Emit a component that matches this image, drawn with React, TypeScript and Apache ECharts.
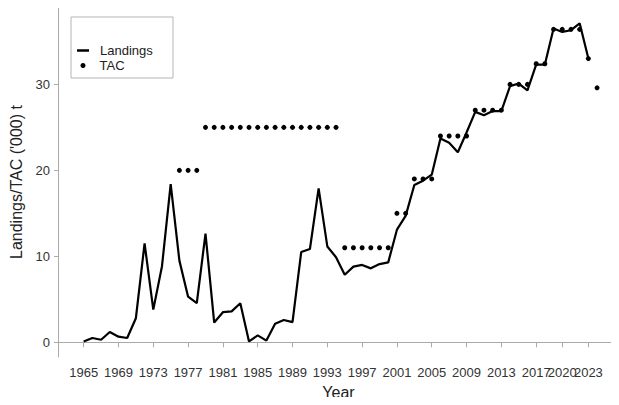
import React, { useEffect, useRef } from "react";
import * as echarts from "echarts";

const years: number[] = [];
for (let y = 1965; y <= 2023; y++) years.push(y);

const landings: number[] = [
  0.1, 0.5, 0.3, 1.2, 0.65, 0.5, 2.8, 11.5, 3.8, 8.85,
  18.4, 9.5, 5.3, 4.55, 12.65, 2.3, 3.5, 3.6, 4.55, 0.1,
  0.8, 0.2, 2.15, 2.6, 2.35, 10.5, 10.85, 17.9, 11.15, 9.9,
  7.85, 8.8, 9.0, 8.6, 9.1, 9.3, 13.1, 14.7, 18.3, 18.8,
  19.5, 23.7, 23.2, 22.1, 24.4, 26.8, 26.4, 26.9, 26.9, 29.8,
  30.1, 29.3, 32.3, 32.3, 36.5, 36.1, 36.3, 37.1, 33.0,
];

const tacYears: number[] = [
  1976, 1977, 1978,
  1979, 1980, 1981, 1982, 1983, 1984, 1985, 1986, 1987, 1988, 1989, 1990, 1991, 1992, 1993, 1994,
  1995, 1996, 1997, 1998, 1999, 2000,
  2001, 2002,
  2003, 2004, 2005,
  2006, 2007, 2008, 2009,
  2010, 2011, 2012, 2013,
  2014, 2015, 2016,
  2017, 2018,
  2019, 2020, 2021, 2022,
  2023, 2024,
];
const tacValues: number[] = [
  20, 20, 20,
  25, 25, 25, 25, 25, 25, 25, 25, 25, 25, 25, 25, 25, 25, 25, 25,
  11, 11, 11, 11, 11, 11,
  15, 15,
  19, 19, 19,
  24, 24, 24, 24,
  27, 27, 27, 27,
  30, 30, 30,
  32.4, 32.4,
  36.4, 36.4, 36.4, 36.4,
  33, 29.6,
];

const xTicks: number[] = [1965, 1969, 1973, 1977, 1981, 1985, 1989, 1993, 1997, 2001, 2005, 2009, 2013, 2017, 2020, 2023];
const xLabelsMain: number[] = [1965, 1969, 1973, 1977, 1981, 1985, 1989, 1993, 1997, 2001, 2005, 2009, 2013, 2017, 2023];
const xLabelsExtra: number[] = [2020];
const yTicks: number[] = [0, 10, 20, 30];

export default function App() {
  const ref = useRef<HTMLDivElement>(null);
  useEffect(() => {
    if (!ref.current) return;
    const chart = echarts.init(ref.current, undefined, { renderer: "svg" });
    const font = "Liberation Sans, Arial, Helvetica, sans-serif";
    const axisColor = "#aaaaaa";
    const xMin = 1962.05;
    const xMax = 2026.52;
    const labelBase = {
      hideOverlap: false,
      showMinLabel: true,
      showMaxLabel: true,
      margin: 9,
      fontSize: 13,
      color: "#333",
      fontFamily: font,
      formatter: (v: number) => String(v),
    };
    chart.setOption({
      animation: false,
      backgroundColor: "#ffffff",
      textStyle: { fontFamily: font },
      grid: { left: 57, right: 0, top: 7, bottom: 42, containLabel: false },
      xAxis: [
        {
          type: "value",
          min: xMin,
          max: xMax,
          position: "bottom",
          name: "Year",
          nameLocation: "middle",
          nameGap: 27,
          nameTextStyle: { fontSize: 16, color: "#222", fontFamily: font },
          axisLine: { show: true, lineStyle: { color: axisColor, width: 1 } },
          axisTick: { show: true, length: 5, lineStyle: { color: axisColor }, customValues: xTicks },
          axisLabel: { ...labelBase, customValues: xLabelsMain },
          splitLine: { show: false },
        },
        {
          type: "value",
          min: xMin,
          max: xMax,
          position: "top",
          axisLine: { show: true, lineStyle: { color: axisColor, width: 1 } },
          axisTick: { show: false },
          axisLabel: { show: false },
          splitLine: { show: false },
        },
        {
          type: "value",
          min: xMin,
          max: xMax,
          position: "bottom",
          offset: 0,
          axisLine: { show: false },
          axisTick: { show: false },
          axisLabel: { ...labelBase, customValues: xLabelsExtra },
          splitLine: { show: false },
        },
      ],
      yAxis: {
        type: "value",
        min: -1.71,
        max: 39,
        name: "Landings/TAC ('000) t",
        nameLocation: "middle",
        nameGap: 34,
        nameTextStyle: { fontSize: 16, color: "#222", fontFamily: font },
        axisLine: { show: true, lineStyle: { color: axisColor, width: 1 } },
        axisTick: { show: true, length: 4, lineStyle: { color: axisColor }, customValues: yTicks },
        axisLabel: { customValues: yTicks, margin: 8, fontSize: 13, color: "#333", fontFamily: font },
        splitLine: { show: false },
      },
      legend: [
        {
          data: ["Landings"],
          left: 77,
          top: 44,
          padding: 0,
          icon: "rect",
          itemWidth: 12,
          itemHeight: 2.5,
          textStyle: { fontSize: 13, color: "#222", fontFamily: font, padding: [0, 0, 0, 6] },
          selectedMode: false,
        },
        {
          data: ["TAC"],
          left: 80.5,
          top: 59,
          padding: 0,
          icon: "circle",
          itemWidth: 5,
          itemHeight: 5,
          textStyle: { fontSize: 13, color: "#222", fontFamily: font, padding: [0, 0, 0, 9] },
          selectedMode: false,
        },
      ],
      graphic: [
        {
          type: "rect",
          shape: { x: 71, y: 17, width: 102, height: 61 },
          style: { fill: "none", stroke: "#b5b5b5", lineWidth: 1 },
          z: 0,
        },
      ],
      series: [
        {
          name: "Landings",
          type: "line",
          xAxisIndex: 0,
          data: years.map((y, i) => [y, landings[i]]),
          showSymbol: false,
          symbol: "none",
          lineStyle: { color: "#000", width: 2.2 },
          itemStyle: { color: "#000" },
          z: 2,
        },
        {
          name: "TAC",
          type: "scatter",
          xAxisIndex: 0,
          data: tacYears.map((y, i) => [y, tacValues[i]]),
          symbol: "circle",
          symbolSize: 5,
          itemStyle: { color: "#000", opacity: 1 },
          z: 3,
        },
      ],
    });
    return () => chart.dispose();
  }, []);
  return <div ref={ref} style={{ margin: -8, width: 619, height: 405 }} />;
}
